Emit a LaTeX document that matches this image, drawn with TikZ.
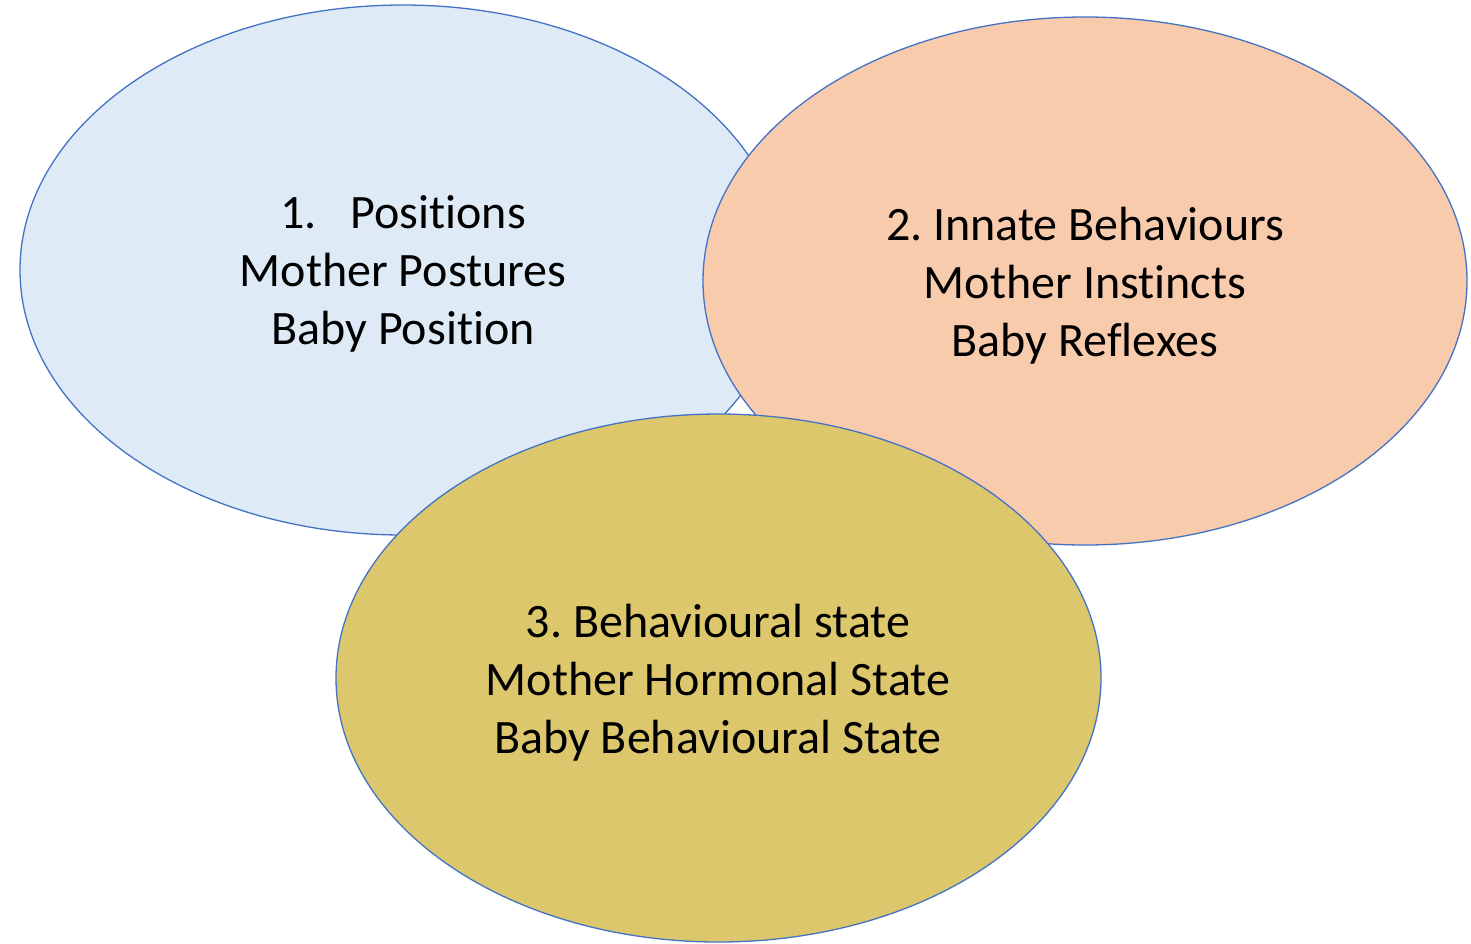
\documentclass[tikz,border=0pt]{standalone}
\usepackage{fontspec}
\setmainfont{Carlito}[RawFeature={-liga;-clig;-dlig;-calt}]
\frenchspacing
\definecolor{bluefill}{HTML}{DEEAF6}
\definecolor{peachfill}{HTML}{F8CBAD}
\definecolor{olivefill}{HTML}{DCC76C}
\definecolor{edge}{HTML}{4472C4}
\tikzset{
  blob/.style={draw=edge, line width=1.3pt},
  lbl/.style={align=center, font=\fontsize{48}{58}\selectfont, text=black, inner sep=0pt}
}
\begin{document}
\begin{tikzpicture}[x=1pt,y=-1pt]
\useasboundingbox (0,0) rectangle (1471,943);
\draw[blob, fill=bluefill] (403,270) ellipse [x radius=383, y radius=265];
\draw[blob, fill=peachfill] (1085,281) ellipse [x radius=382, y radius=264];
\draw[blob, fill=olivefill] (718.5,678) ellipse [x radius=382.5, y radius=264];
\node[lbl] (t1) at (403,274) {1.\hspace{34pt}Positions\\Mother Postures\\Baby Position};
\node[lbl] (t2) at (1085,286) {2. Innate Behaviours\\Mother Instincts\\Baby Reflexes};
\node[lbl] (t3) at (718,683) {3. Behavioural state\\Mother Hormonal State\\Baby Behavioural State};
\end{tikzpicture}
\end{document}
